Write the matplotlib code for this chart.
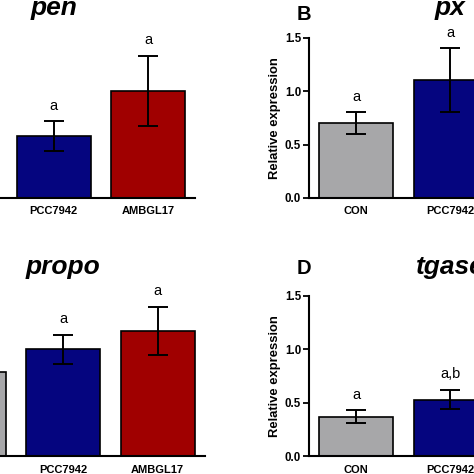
import matplotlib
matplotlib.use("Agg")
import matplotlib.pyplot as plt

plt.rcParams['font.family'] = ['Liberation Sans', 'DejaVu Sans']

groups = ["CON", "PCC7942", "AMBGL17"]
bar_colors = ["#a7a7a9", "#05057f", "#a00000"]

# only the bars that show inside the cropped picture (index into groups)
pen_idx = [1, 2]
pen_mean = [0.575, 1.0]
pen_err = [0.14, 0.33]
pen_sig = ["a", "a"]

px_idx = [0, 1]
px_mean = [0.70, 1.10]
px_err = [0.10, 0.30]
px_sig = ["a", "a"]

propo_idx = [0, 1, 2]
propo_mean = [0.79, 1.0, 1.17]
propo_err = [None, 0.135, 0.225]
propo_sig = [None, "a", "a"]

tgase_idx = [0, 1]
tgase_mean = [0.37, 0.53]
tgase_err = [0.06, 0.09]
tgase_sig = ["a", "a,b"]

W, H = 474, 474
ax_w, ax_h = 283.2, 160.5

fig = plt.figure(figsize=(W / 100, H / 100), dpi=100)


def panel(left_px, base_px, idx, mean, err, sig, title, letter=None, letter_gap=17):
    ax = fig.add_axes([left_px / W, (H - base_px) / H, ax_w / W, ax_h / H])
    for i, m, e, s in zip(idx, mean, err, sig):
        ax.bar(i, m, width=0.78, color=bar_colors[i], edgecolor="black", linewidth=1.2, zorder=2)
        if e is not None:
            ax.errorbar(i, m, yerr=e, fmt="none", ecolor="black", elinewidth=1.4,
                        capsize=7, capthick=1.4, zorder=3)
            ax.text(i, m + e + 0.08, s, ha="center", va="bottom", fontsize=10.5)
    ax.set_xlim(-0.5, 2.5)
    ax.set_ylim(0, 1.5)
    ax.set_xticks(range(3))
    ax.set_xticklabels(groups, fontsize=8, fontweight="bold")
    ax.set_yticks([0, 0.5, 1.0, 1.5])
    ax.set_yticklabels(["0.0", "0.5", "1.0", "1.5"], fontsize=8.3, fontweight="bold")
    ax.tick_params(axis="x", length=0, pad=6)
    ax.tick_params(axis="y", length=4, width=1.3, pad=1.5)
    for sp in ["top", "right"]:
        ax.spines[sp].set_visible(False)
    for sp in ["left", "bottom"]:
        ax.spines[sp].set_linewidth(1.5)
    ax.text(-33.8 / ax_w, 0.5, "Relative expression", transform=ax.transAxes,
            rotation=90, ha="center", va="center", fontsize=9.4, fontweight="bold")
    ax.text(0.5, 1 + 22 / ax_h, title, transform=ax.transAxes, ha="center",
            va="baseline", fontsize=19, fontweight="bold", fontstyle="italic")
    if letter:
        ax.text(-5 / ax_w, 1 + letter_gap / ax_h, letter, transform=ax.transAxes,
                ha="center", va="baseline", fontsize=14.5, fontweight="bold")
    return ax


panel(-87.9, 198, pen_idx, pen_mean, pen_err, pen_sig, "pen", "A")
panel(308.8, 198, px_idx, px_mean, px_err, px_sig, "px", "B", 17)
panel(-78.3, 456.3, propo_idx, propo_mean, propo_err, propo_sig, "propo", "C")
panel(308.8, 456.3, tgase_idx, tgase_mean, tgase_err, tgase_sig, "tgase", "D", 22)

fig.savefig("out.png", dpi=100)
